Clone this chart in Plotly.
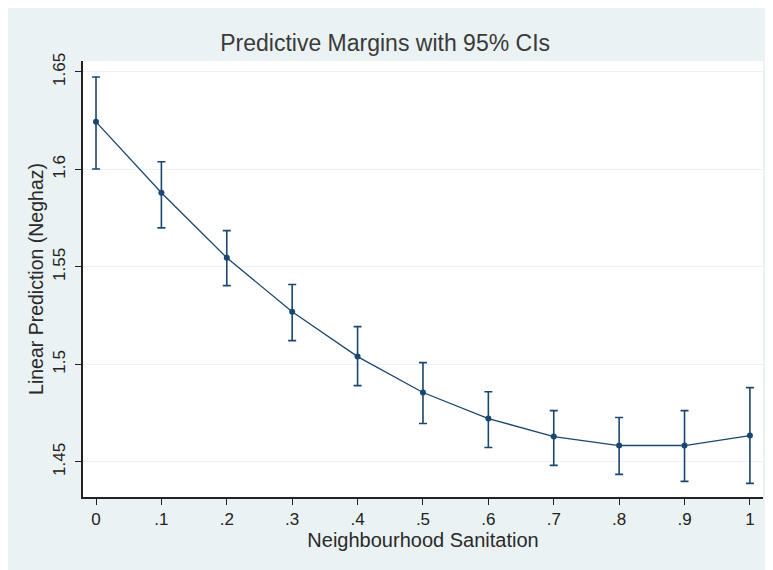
import plotly.graph_objects as go

x_vals = [0, 0.1, 0.2, 0.3, 0.4, 0.5, 0.6, 0.7, 0.8, 0.9, 1.0]
margin = [1.6244, 1.5880, 1.5547, 1.5270, 1.5040, 1.4856, 1.4722, 1.4630, 1.4584, 1.4584, 1.4635]
ci_upper = [1.6474, 1.6039, 1.5686, 1.5410, 1.5194, 1.5009, 1.4860, 1.4763, 1.4728, 1.4763, 1.4881]
ci_lower = [1.6002, 1.5700, 1.5404, 1.5122, 1.4891, 1.4697, 1.4574, 1.4482, 1.4436, 1.4400, 1.4390]
x_tick_vals = [0, 0.1, 0.2, 0.3, 0.4, 0.5, 0.6, 0.7, 0.8, 0.9, 1.0]
x_tick_text = ["0", ".1", ".2", ".3", ".4", ".5", ".6", ".7", ".8", ".9", "1"]
y_tick_vals = [1.45, 1.5, 1.55, 1.6, 1.65]
y_tick_text = ["1.45", "1.5", "1.55", "1.6", "1.65"]

err_plus = [u - m for u, m in zip(ci_upper, margin)]
err_minus = [m - l for m, l in zip(margin, ci_lower)]

navy = "#1a476f"
font_family = "Liberation Sans, Arial, sans-serif"

fig = go.Figure()
fig.add_trace(go.Scatter(
    x=x_vals, y=margin, mode="lines+markers",
    line=dict(color=navy, width=1.3),
    marker=dict(color=navy, size=6),
    error_y=dict(type="data", array=err_plus, arrayminus=err_minus,
                 color=navy, thickness=1.6, width=4),
    showlegend=False,
))

fig.update_layout(
    width=765, height=562,
    paper_bgcolor="#eaf2f3",
    plot_bgcolor="white",
    margin=dict(l=75, r=10, t=53, b=73),
    font=dict(family=font_family, size=13, color="#222222"),
    title=dict(text="Predictive Margins with 95% CIs", x=0.493, xanchor="center",
               y=1 - 35 / 562, yanchor="middle",
               font=dict(size=23, color="#3a3a3a", family=font_family)),
    xaxis=dict(
        range=[-0.0199, 1.02],
        automargin=False,
        tickmode="array", tickvals=x_tick_vals, ticktext=x_tick_text,
        ticks="outside", ticklen=6, tickwidth=1.3, tickcolor="#222222",
        showgrid=False, zeroline=False,
        showline=True, linecolor="#222222", linewidth=1.5,
        tickfont=dict(size=17, color="#222222"),
        title=dict(text="Neighbourhood Sanitation", standoff=0,
                   font=dict(size=20, color="#2a2a2a")),
    ),
    yaxis=dict(
        range=[1.432, 1.6556],
        automargin=False,
        tickmode="array", tickvals=y_tick_vals, ticktext=y_tick_text,
        tickangle=-90, ticklabelstandoff=3,
        ticks="outside", ticklen=6, tickwidth=1.3, tickcolor="#222222",
        showgrid=True, gridcolor="#eaf2f3", gridwidth=1.2,
        zeroline=False,
        showline=True, linecolor="#222222", linewidth=1.5,
        tickfont=dict(size=17, color="#222222"),
        title=dict(text="Linear Prediction (Neghaz)", standoff=2,
                   font=dict(size=19.5, color="#2a2a2a")),
    ),
)

fig.write_html("out.html")
